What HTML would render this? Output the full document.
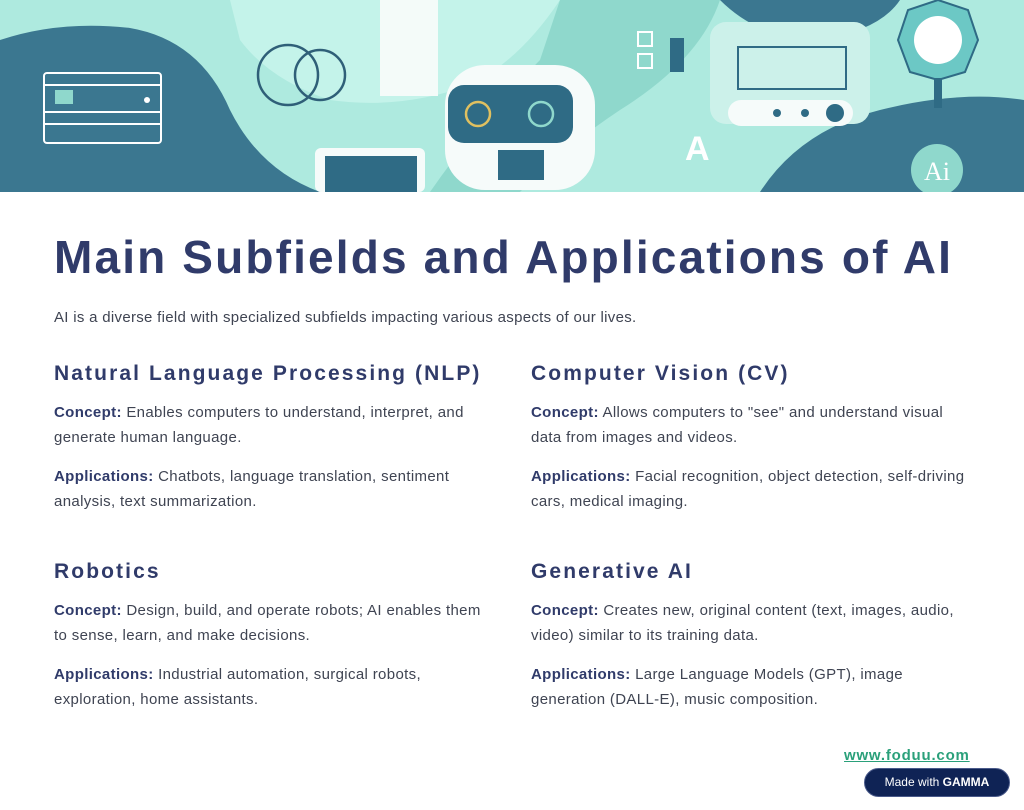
<!DOCTYPE html>
<html><head><meta charset="utf-8"><style>
*{margin:0;padding:0;box-sizing:border-box}
body{width:1024px;height:810px;background:#fff;font-family:"Liberation Sans",sans-serif;position:relative;overflow:hidden;color:#3f4452}
.banner{position:absolute;left:0;top:0;width:1024px;height:192px}
h1{position:absolute;left:54px;top:230px;font-size:46px;font-weight:bold;color:#303b6a;letter-spacing:2.15px;white-space:nowrap}
.sub{position:absolute;left:54px;top:309px;font-size:15px;color:#3f4452;letter-spacing:0.3px}
.col{position:absolute;width:440px}
.col h2{font-size:21px;font-weight:bold;color:#303b6a;margin-bottom:14px;letter-spacing:2.1px;white-space:nowrap}
.col p{font-size:15px;line-height:25px;margin-bottom:14px;letter-spacing:0.35px}
.col b{color:#303b6a}
.link{position:absolute;left:844px;top:747px;font-size:15px;font-weight:bold;color:#2aa07a;text-decoration:underline;letter-spacing:0.8px}
.badge{position:absolute;left:864px;top:768px;width:146px;height:29px;border-radius:15px;background:#0f2355;border:1px solid #4a5a8a;color:#fff;font-size:12px;line-height:27px;text-align:center}
</style></head><body>
<svg class="banner" viewBox="0 0 1024 192" xmlns="http://www.w3.org/2000/svg">
<rect width="1024" height="192" fill="#aeeadf"/>
<path d="M0 40 Q60 20 130 28 Q200 40 230 110 Q260 170 320 192 L0 192Z" fill="#3b7790"/>
<path d="M230 0 L560 0 Q520 60 470 85 Q400 110 330 100 Q270 80 240 40Z" fill="#c4f3ea"/>
<path d="M560 0 L720 0 Q700 60 620 110 Q560 150 520 192 L430 192 Q480 120 540 60Z" fill="#8fd8cc"/>
<path d="M720 0 L900 0 Q880 30 820 40 Q760 40 720 0Z" fill="#3b7790"/>
<path d="M760 192 Q800 130 880 110 Q960 90 1024 100 L1024 192Z" fill="#3b7790"/>
<rect x="44" y="73" width="117" height="70" rx="3" fill="none" stroke="#fff" stroke-width="2"/>
<line x1="44" y1="85" x2="161" y2="85" stroke="#fff" stroke-width="2"/>
<line x1="44" y1="112" x2="161" y2="112" stroke="#fff" stroke-width="2"/>
<line x1="44" y1="124" x2="161" y2="124" stroke="#fff" stroke-width="2"/>
<rect x="55" y="90" width="18" height="14" fill="#8fd8cc"/>
<circle cx="147" cy="100" r="3" fill="#fff"/>
<circle cx="288" cy="75" r="30" fill="none" stroke="#2f5f78" stroke-width="2.5"/>
<circle cx="320" cy="75" r="25" fill="none" stroke="#2f5f78" stroke-width="2.5"/>
<rect x="380" y="0" width="58" height="96" fill="#f4fbf9"/>
<rect x="445" y="65" width="150" height="125" rx="40" fill="#f6fbfa"/>
<rect x="448" y="85" width="125" height="58" rx="16" fill="#2f6b85"/>
<circle cx="478" cy="114" r="12" fill="none" stroke="#e0c060" stroke-width="2.5"/>
<circle cx="541" cy="114" r="12" fill="none" stroke="#8fd8cc" stroke-width="2.5"/>
<rect x="498" y="150" width="46" height="30" fill="#2f6b85"/>
<rect x="315" y="148" width="110" height="44" rx="6" fill="#f6fbfa"/>
<rect x="325" y="156" width="92" height="36" fill="#2f6b85"/>
<rect x="638" y="32" width="14" height="14" fill="none" stroke="#fff" stroke-width="2"/>
<rect x="638" y="54" width="14" height="14" fill="none" stroke="#fff" stroke-width="2"/>
<rect x="670" y="38" width="14" height="34" fill="#2f6b85"/>
<rect x="710" y="22" width="160" height="102" rx="16" fill="#ccf1ea"/>
<rect x="738" y="47" width="108" height="42" fill="none" stroke="#2f6b85" stroke-width="2"/>
<rect x="728" y="100" width="125" height="26" rx="13" fill="#f6fbfa"/>
<circle cx="835" cy="113" r="9" fill="#2f6b85"/>
<circle cx="805" cy="113" r="4" fill="#2f6b85"/>
<circle cx="777" cy="113" r="4" fill="#2f6b85"/>
<polygon points="938,0 968,10 978,40 965,72 938,80 910,72 898,40 908,10" fill="#6cc8c5" stroke="#2f6b85" stroke-width="2"/>
<circle cx="938" cy="40" r="24" fill="#fff"/>
<rect x="934" y="78" width="8" height="30" fill="#2f6b85"/>
<circle cx="937" cy="170" r="26" fill="#8fd8cc"/>
<text x="937" y="180" font-family="Liberation Serif,serif" font-size="26" fill="#fff" text-anchor="middle">Ai</text>
<text x="685" y="160" font-family="Liberation Sans" font-weight="bold" font-size="34" fill="#fff">A</text>
</svg>
<h1>Main Subfields and Applications of AI</h1>
<div class="sub">AI is a diverse field with specialized subfields impacting various aspects of our lives.</div>
<div class="col" style="left:54px;top:362px"><h2>Natural Language Processing (NLP)</h2>
<p><b>Concept:</b> Enables computers to understand, interpret, and generate human language.</p>
<p><b>Applications:</b> Chatbots, language translation, sentiment analysis, text summarization.</p></div>
<div class="col" style="left:531px;top:362px"><h2>Computer Vision (CV)</h2>
<p><b>Concept:</b> Allows computers to "see" and understand visual data from images and videos.</p>
<p><b>Applications:</b> Facial recognition, object detection, self-driving cars, medical imaging.</p></div>
<div class="col" style="left:54px;top:560px"><h2>Robotics</h2>
<p><b>Concept:</b> Design, build, and operate robots; AI enables them to sense, learn, and make decisions.</p>
<p><b>Applications:</b> Industrial automation, surgical robots, exploration, home assistants.</p></div>
<div class="col" style="left:531px;top:560px"><h2>Generative AI</h2>
<p><b>Concept:</b> Creates new, original content (text, images, audio, video) similar to its training data.</p>
<p><b>Applications:</b> Large Language Models (GPT), image generation (DALL-E), music composition.</p></div>
<div class="link">www.foduu.com</div>
<div class="badge">Made with <b>GAMMA</b></div>
</body></html>
